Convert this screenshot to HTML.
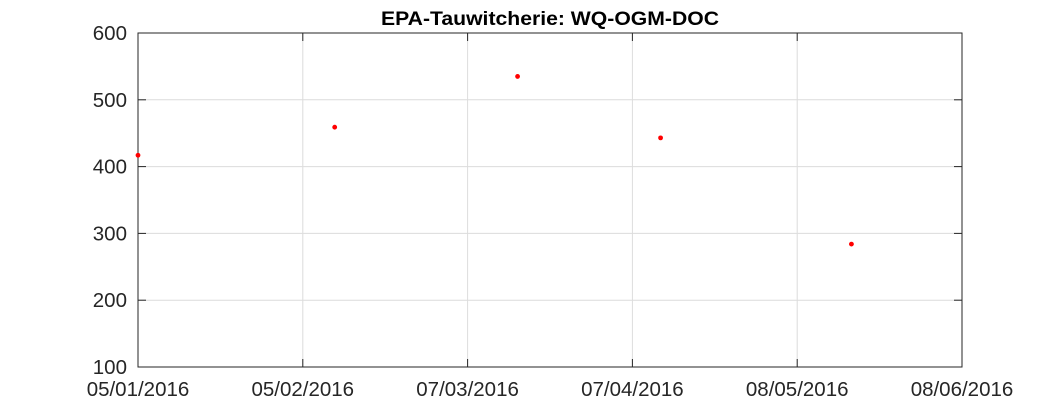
<!DOCTYPE html>
<html><head><meta charset="utf-8"><style>
body{margin:0;background:#fff;}
svg{display:block;font-family:"Liberation Sans",Arial,sans-serif;}
</style></head><body>
<svg id="chart" width="1063" height="413">
<rect x="0" y="0" width="1063" height="413" fill="#fff"/>
<text x="550" y="25" text-anchor="middle" font-size="19" font-weight="bold" fill="#000" textLength="338" lengthAdjust="spacingAndGlyphs">EPA-Tauwitcherie: WQ-OGM-DOC</text>
<g id="grid"></g>
<rect x="138" y="33" width="824" height="334" fill="none" stroke="#262626" stroke-width="1"/>
<g id="ticks"></g>
<g id="points"></g>
</svg>
<script>
const xTickLabels=["05/01/2016","05/02/2016","07/03/2016","07/04/2016","08/05/2016","08/06/2016"];
const xTickDays=[0,31,62,93,124,155];
const yTicks=[100,200,300,400,500,600];
const pointDays=[0,37,71.4,98.3,134.2];
const pointValues=[417,459,535,443,284];

const L=138,R=962,T=33,B=367;
const xs=d=>L+(d-0)/(155-0)*(R-L);
const ys=v=>B-(v-100)/(600-100)*(B-T);
const NS="http://www.w3.org/2000/svg";
const grid=document.getElementById('grid'),ticks=document.getElementById('ticks'),pts=document.getElementById('points');
function mk(tag,attrs,parent){const e=document.createElementNS(NS,tag);for(const k in attrs)e.setAttribute(k,attrs[k]);parent.appendChild(e);return e;}
xTickDays.forEach((d,i)=>{
  const x=xs(d);
  const g=mk('line',{x1:x,x2:x,y1:T,y2:B,stroke:'#dcdcdc','stroke-width':1},grid);
  
  
  const t1=mk('line',{x1:x,x2:x,y1:B,y2:B-8,stroke:'#262626'},ticks);
  
  
  const t2=mk('line',{x1:x,x2:x,y1:T,y2:T+8,stroke:'#262626'},ticks);
  
  
  const tx=mk('text',{x:x,y:396,'text-anchor':'middle','font-size':20.5,fill:'#262626'},ticks);
  tx.textContent=xTickLabels[i];
  
  
});
yTicks.forEach(v=>{
  const y=ys(v);
  const g=mk('line',{x1:L,x2:R,y1:y,y2:y,stroke:'#dcdcdc','stroke-width':1},grid);
  
  
  const t1=mk('line',{x1:L,x2:L+8,y1:y,y2:y,stroke:'#262626'},ticks);
  
  
  const t2=mk('line',{x1:R,x2:R-8,y1:y,y2:y,stroke:'#262626'},ticks);
  
  
  const tx=mk('text',{x:127,y:y+7,'text-anchor':'end','font-size':20.5,fill:'#262626'},ticks);
  tx.textContent=v;
  
  
});
pointDays.forEach((d,i)=>{
  const c=mk('circle',{cx:xs(d),cy:ys(pointValues[i]),r:2.4,fill:'#ff0000'},pts);
  
  
});
</script>
</body></html>
